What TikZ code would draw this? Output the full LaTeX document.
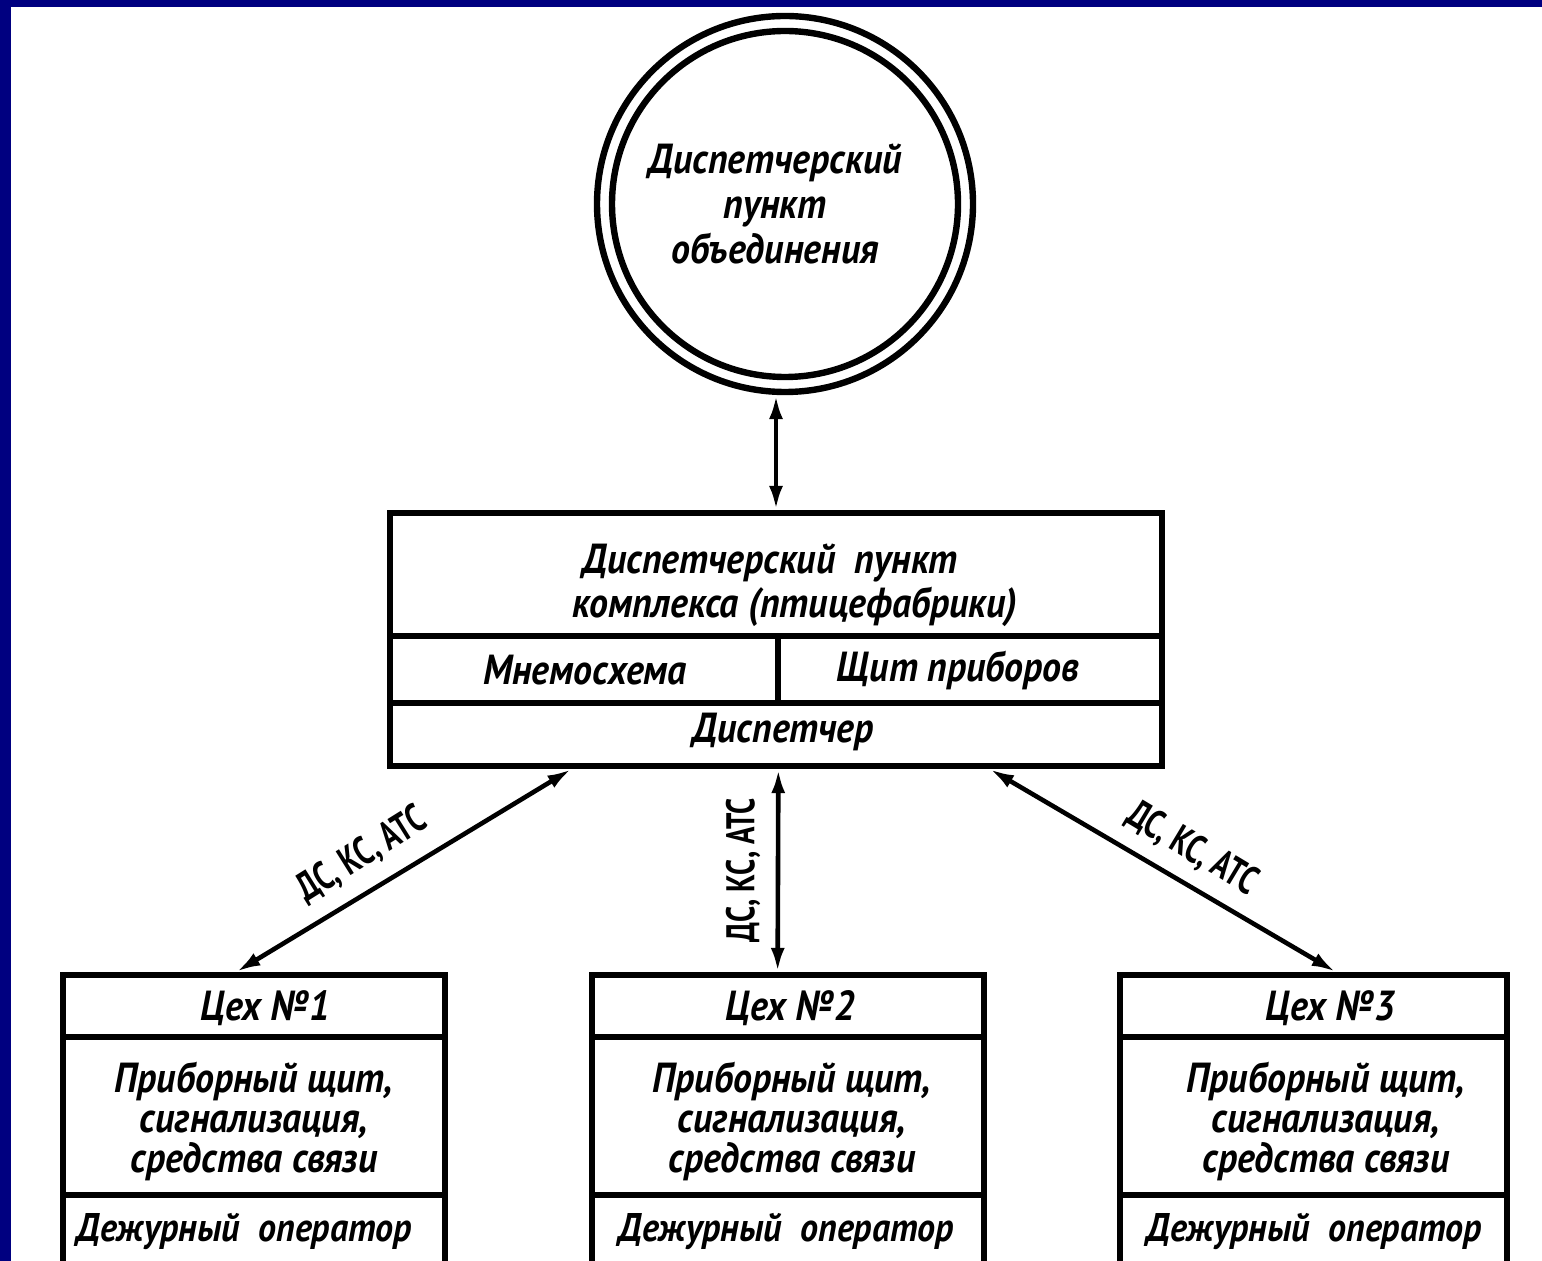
\documentclass[tikz,border=0pt]{standalone}
\usepackage{fontspec}
\newfontfamily\gost{PT Sans}[FakeStretch=0.9]
\newfontfamily\gostn{PT Sans}[FakeStretch=0.72]
\usetikzlibrary{arrows.meta,calc}
\definecolor{frameblue}{RGB}{0,0,128}
\tikzset{
  box/.style={draw, line width=3.2pt, inner sep=0pt, rectangle},
  sep/.style={line width=3.2pt},
  ring/.style={draw, line width=3.2pt, circle, inner sep=0pt},
  txt/.style={font=\gost\bfseries\itshape\fontsize{21}{20}\selectfont, inner sep=0pt, align=center},
  optxt/.style={font=\gost\bfseries\itshape\fontsize{20}{20}\selectfont, inner sep=0pt},
  lbl/.style={font=\gostn\bfseries\fontsize{20}{20}\selectfont, inner sep=0pt},
  link/.style={line width=2.3pt, {Latex[length=12pt,width=7pt]}-{Latex[length=12pt,width=7pt]}}
}
\begin{document}
\begin{tikzpicture}[x=0.5pt,y=-0.5pt]
\path[use as bounding box] (0,0) rectangle (1542,1261);
\clip (0,0) rectangle (1542,1261);
\fill[white] (-5,-5) rectangle (1547,1266);
\fill[frameblue] (-5,-5) rectangle (1547,7);
\fill[frameblue] (-5,-5) rectangle (11,1266);

% top circle
\node[ring, minimum size=188pt] (outer) at (785,204) {};
\node[ring, minimum size=173pt] (inner) at (785,204) {};
\node[txt, font=\gost\bfseries\itshape\fontsize{21}{22.5}\selectfont] (ctext) at (775,204) {Диспетчерский\\пункт\\объединения};

% complex dispatch box
\node[box, minimum width=386pt, minimum height=126.5pt] (top) at (776,639.5) {};
\draw[sep] (390,636) -- (1162,636);
\draw[sep] (390,703) -- (1162,703);
\draw[sep] (778,636) -- (778,703);
\node[txt] (t1) at (770,563) {Диспетчерский\ \ пункт};
\node[txt] (t2) at (795,607) {комплекса (птицефабрики)};
\node[txt] (t3) at (585,670) {Мнемосхема};
\node[txt] (t4) at (958,670) {Щит приборов};
\node[txt] (t5) at (783,732) {Диспетчер};

% workshops
\node[box, minimum width=191pt, minimum height=157.5pt] (w1) at (254,1132.5) {};
\node[box, minimum width=196pt, minimum height=157.5pt] (w2) at (788,1132.5) {};
\node[box, minimum width=193.5pt, minimum height=157.5pt] (w3) at (1313.5,1132.5) {};
\foreach \a/\b in {63/445, 592/984, 1120/1507}{
  \draw[sep] (\a,1037) -- (\b,1037);
  \draw[sep] (\a,1195) -- (\b,1195);
}
\node[txt] (w1a) at (265,1008) {Цех №1};
\node[txt] (w2a) at (790,1008) {Цех №2};
\node[txt] (w3a) at (1330,1008) {Цех №3};
\node[txt] (w1b) at (254,1121) {Приборный щит,\\сигнализация,\\средства связи};
\node[txt] (w2b) at (792,1121) {Приборный щит,\\сигнализация,\\средства связи};
\node[txt] (w3b) at (1326,1121) {Приборный щит,\\сигнализация,\\средства связи};
\node[optxt] (w1c) at (244,1232) {Дежурный\ \ оператор};
\node[optxt] (w2c) at (786,1232) {Дежурный\ \ оператор};
\node[optxt] (w3c) at (1314,1232) {Дежурный\ \ оператор};

% connectors
\coordinate (pL) at ($(top.south west)!0.237!(top.south east)$);
\coordinate (pM) at ($(top.south west)!0.503!(top.south east)$);
\coordinate (pR) at ($(top.south west)!0.775!(top.south east)$);
\coordinate (q1) at ($(w1.north west)!0.455!(w1.north east)$);
\coordinate (q2) at ($(w2.north west)!0.474!(w2.north east)$);
\coordinate (q3) at ($(w3.north west)!0.556!(w3.north east)$);
\draw[link] (top.north |- outer.south) -- (top.north);
\draw[link] (pL) -- (q1);
\draw[link] (pM) -- (q2);
\draw[link] (pR) -- (q3);
\node[lbl, rotate=32] (l1) at (362,855) {ДС, КС, АТС};
\node[lbl, rotate=90] (l2) at (743,870) {ДС, КС, АТС};
\node[lbl, rotate=-31] (l3) at (1192,849) {ДС, КС, АТС};
\end{tikzpicture}
\end{document}
